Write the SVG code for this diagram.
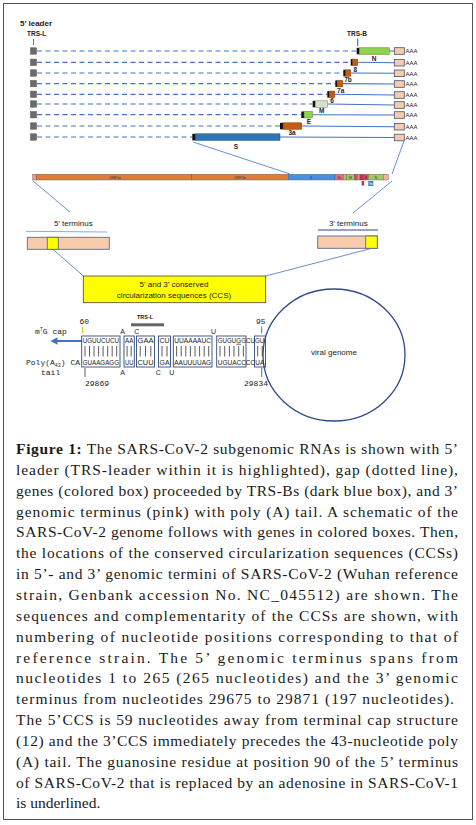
<svg xmlns="http://www.w3.org/2000/svg" width="476" height="825" viewBox="0 0 476 825">
<style>
.sans{font-family:"Liberation Sans",Arial,sans-serif}
.mono{font-family:"Liberation Mono","Courier New",monospace}
.cap{font-family:"Liberation Serif","Times New Roman",serif;font-size:15.5px;fill:#1a1a1a}
.dash{stroke:#4472C4;stroke-width:1.2;stroke-dasharray:5 3.5;fill:none}
.sol{stroke:#4472C4;stroke-width:1.1;fill:none}
.thin{stroke:#4472C4;stroke-width:0.8;fill:none}
.lead{fill:#6b6b6b;stroke:#555;stroke-width:0.5}
.trs{fill:#111}
.org{fill:#C55A11;stroke:#7a3508;stroke-width:0.5}
.grn{fill:#92D050;stroke:#4e7a25;stroke-width:0.5}
.pink{fill:#F8CBAD;stroke:#44546A;stroke-width:0.8}
.glab{font-family:"Liberation Sans",Arial,sans-serif;font-size:6.5px;font-weight:bold;fill:#222;text-anchor:middle}
.aaa{font-family:"Liberation Sans",Arial,sans-serif;font-size:6px;fill:#222}
.gb{stroke:#7a4a2a;stroke-width:0.4}
.tiny{font-family:"Liberation Sans",Arial,sans-serif;font-size:3.6px;fill:#333;text-anchor:middle}
.sbox{fill:none;stroke:#2F4A7A;stroke-width:0.9}
.seq{font-family:"Liberation Sans",Arial,sans-serif;font-size:7px;fill:#222}
.bar{stroke:#333;stroke-width:0.8;fill:none}
.lbl8{font-family:"Liberation Sans",Arial,sans-serif;font-size:8px;fill:#222;text-anchor:middle}
</style>
<rect x="3.5" y="3.5" width="469" height="816" fill="#fff" stroke="#555" stroke-width="1"/>

<g id="headers">
<text class="sans" x="20" y="25.5" font-size="8" font-weight="bold" fill="#222">5’ leader</text>
<text class="sans" x="27" y="36" font-size="6.5" font-weight="bold" fill="#222">TRS-L</text>
<line x1="33.5" y1="39" x2="33.5" y2="45" stroke="#4472C4" stroke-width="1"/>
<text class="sans" x="357" y="36" font-size="6.5" font-weight="bold" fill="#222" text-anchor="middle">TRS-B</text>
<line x1="357.7" y1="38.5" x2="357.7" y2="46" stroke="#4472C4" stroke-width="1.2"/>
</g>

<g id="connectors">
<line class="dash" x1="37" y1="51" x2="356.7" y2="51"/>
<line class="dash" x1="37" y1="62.3" x2="350.7" y2="62.3"/>
<line class="dash" x1="37" y1="73" x2="343.3" y2="73"/>
<line class="dash" x1="37" y1="83.6" x2="335.3" y2="83.6"/>
<line class="dash" x1="37" y1="94.3" x2="327.3" y2="94.3"/>
<line class="dash" x1="37" y1="104" x2="312.7" y2="104"/>
<line class="dash" x1="37" y1="114.7" x2="301.3" y2="114.7"/>
<line class="dash" x1="37" y1="126" x2="280" y2="126"/>
<line class="dash" x1="37" y1="137" x2="192.3" y2="137"/>
<line class="sol" x1="389.3" y1="51" x2="394.3" y2="51"/>
<line class="sol" x1="357.7" y1="62.3" x2="394.3" y2="62.7"/>
<line class="sol" x1="350.7" y1="73" x2="394.3" y2="73.3"/>
<line class="sol" x1="342.7" y1="83.6" x2="394.3" y2="84"/>
<line class="sol" x1="334.7" y1="94.3" x2="394.3" y2="95"/>
<line class="sol" x1="327.7" y1="104" x2="394.3" y2="105"/>
<line class="sol" x1="312.3" y1="114.7" x2="394.3" y2="115"/>
<line class="sol" x1="301.7" y1="126" x2="394.3" y2="126.7"/>
<line class="sol" x1="280" y1="137" x2="394.3" y2="137.5"/>
<line class="thin" x1="193" y1="142" x2="290" y2="174"/>
<line class="thin" x1="404" y1="141" x2="392" y2="174"/>
<line class="thin" x1="33" y1="181" x2="70" y2="212"/>
<line class="thin" x1="392" y1="181" x2="353" y2="213"/>
<line x1="26" y1="231.3" x2="107" y2="232" stroke="#8EA9DB" stroke-width="1"/>
<line x1="318" y1="230" x2="378" y2="230" stroke="#2F4A8A" stroke-width="1"/>
<line class="thin" x1="53" y1="249.3" x2="83.3" y2="276"/>
<line class="thin" x1="371.7" y1="248.3" x2="265.7" y2="276"/>
</g>

<g id="leaders">
<rect class="lead" x="30.5" y="47.8" width="6" height="6.4"/>
<rect class="lead" x="30.5" y="59.1" width="6" height="6.4"/>
<rect class="lead" x="30.5" y="69.8" width="6" height="6.4"/>
<rect class="lead" x="30.5" y="80.4" width="6" height="6.4"/>
<rect class="lead" x="30.5" y="91.1" width="6" height="6.4"/>
<rect class="lead" x="30.5" y="100.8" width="6" height="6.4"/>
<rect class="lead" x="30.5" y="111.5" width="6" height="6.4"/>
<rect class="lead" x="30.5" y="122.8" width="6" height="6.4"/>
<rect class="lead" x="30.5" y="133.8" width="6" height="6.4"/>
</g>

<g id="gene-N">
<rect class="trs" x="356.7" y="47.8" width="2.6" height="6.5"/>
<rect class="grn" x="359.3" y="47.8" width="30" height="6.5"/>
<text class="glab" x="374" y="60.5">N</text>
</g>
<g id="gene-8">
<rect class="trs" x="350.7" y="59.1" width="2" height="6.5"/>
<rect class="org" x="352.7" y="59.1" width="5" height="6.5"/>
<text class="glab" x="355.3" y="71.5">8</text>
</g>
<g id="gene-7b">
<rect class="trs" x="343.3" y="69.8" width="2.4" height="6.5"/>
<rect class="org" x="345.7" y="69.8" width="5" height="6.5"/>
<text class="glab" x="348" y="82.3">7b</text>
</g>
<g id="gene-7a">
<rect class="trs" x="335.3" y="80.4" width="2" height="6.5"/>
<rect class="org" x="337.3" y="80.4" width="5.4" height="6.5"/>
<text class="glab" x="340.7" y="92.8">7a</text>
</g>
<g id="gene-6">
<rect class="trs" x="327.3" y="91.1" width="2" height="6.5"/>
<rect class="org" x="329.3" y="91.1" width="5.4" height="6.5"/>
<text class="glab" x="332" y="103">6</text>
</g>
<g id="gene-M">
<rect class="trs" x="312.7" y="100.8" width="2.6" height="6.5"/>
<rect x="315.3" y="100.8" width="12.4" height="6.5" fill="#D3E2C8" stroke="#6c7e60" stroke-width="0.5"/>
<text class="glab" x="321.7" y="113">M</text>
</g>
<g id="gene-E">
<rect class="trs" x="301.3" y="111.5" width="2.7" height="6.5"/>
<rect class="grn" x="304" y="111.5" width="8.3" height="6.5"/>
<text class="glab" x="309" y="123.5">E</text>
</g>
<g id="gene-3a">
<rect class="trs" x="280" y="122.8" width="3" height="6.5"/>
<rect class="org" x="283" y="122.8" width="18.7" height="6.5"/>
<text class="glab" x="292" y="135.3">3a</text>
</g>
<g id="gene-S">
<rect class="trs" x="192.3" y="133.8" width="3.4" height="6.6"/>
<rect x="195.7" y="133.8" width="84.3" height="6.6" fill="#2E75B6" stroke="#1d4f80" stroke-width="0.5"/>
<text class="glab" x="236" y="148.5">S</text>
</g>

<g id="polyA">
<rect class="pink" x="394.3" y="47.7" width="10" height="6.6"/>
<rect class="pink" x="394.3" y="59.4" width="10" height="6.6"/>
<rect class="pink" x="394.3" y="70" width="10" height="6.6"/>
<rect class="pink" x="394.3" y="80.7" width="10" height="6.6"/>
<rect class="pink" x="394.3" y="91.7" width="10" height="6.6"/>
<rect class="pink" x="394.3" y="101.7" width="10" height="6.6"/>
<rect class="pink" x="394.3" y="111.7" width="10" height="6.6"/>
<rect class="pink" x="394.3" y="123.4" width="10" height="6.6"/>
<rect class="pink" x="394.3" y="134.2" width="10" height="6.6"/>
<text class="aaa" x="405.5" y="53.3">AAA</text>
<text class="aaa" x="405.5" y="65">AAA</text>
<text class="aaa" x="405.5" y="75.6">AAA</text>
<text class="aaa" x="405.5" y="86.3">AAA</text>
<text class="aaa" x="405.5" y="97.3">AAA</text>
<text class="aaa" x="405.5" y="107.3">AAA</text>
<text class="aaa" x="405.5" y="117.3">AAA</text>
<text class="aaa" x="405.5" y="129">AAA</text>
<text class="aaa" x="405.5" y="139.8">AAA</text>
</g>

<g id="genome">
<rect class="gb" x="32.7" y="174.3" width="4" height="5.7" fill="#D9A0A0"/>
<rect class="gb" x="36.7" y="174.3" width="155" height="5.7" fill="#E07B39"/>
<text class="tiny" x="115" y="178.6">ORF1a</text>
<rect class="gb" x="191.7" y="174.3" width="96.6" height="5.7" fill="#E07B39"/>
<text class="tiny" x="240" y="178.6">ORF1b</text>
<rect x="288.3" y="174.3" width="46.7" height="5.7" fill="#4A8FDB" stroke="#2a5f9a" stroke-width="0.4"/>
<text class="tiny" x="311" y="178.6">S</text>
<rect class="gb" x="335" y="174.3" width="8.3" height="5.7" fill="#E07080"/>
<text class="tiny" x="339.2" y="178.6">3a</text>
<rect class="gb" x="343.3" y="174.3" width="3.4" height="5.7" fill="#9CCB6B"/>
<rect class="gb" x="346.7" y="174.3" width="7.6" height="5.7" fill="#9CCB6B"/>
<text class="tiny" x="350.5" y="178.6">M</text>
<rect class="gb" x="354.3" y="174.3" width="3" height="5.7" fill="#D84860"/>
<rect class="gb" x="357.3" y="174.3" width="2.7" height="5.7" fill="#E88898"/>
<rect class="gb" x="360" y="174.3" width="3.3" height="5.7" fill="#C03050"/>
<rect class="gb" x="363.3" y="174.3" width="5" height="5.7" fill="#D04860"/>
<text class="tiny" x="365.8" y="178.6">8</text>
<rect class="gb" x="368.3" y="174.3" width="15" height="5.7" fill="#9CCB6B"/>
<text class="tiny" x="375.8" y="178.6">N</text>
<rect class="gb" x="383.3" y="174.3" width="5" height="5.7" fill="#F0B0B0"/>
<rect x="361.7" y="181" width="2.4" height="4.5" fill="#C0304A"/>
<rect x="368.3" y="181" width="5" height="5" fill="#3A78C0"/>
<text x="370.8" y="184.7" font-family="Liberation Sans,Arial,sans-serif" font-size="3.4" fill="#fff" text-anchor="middle">9b</text>
</g>

<g id="terminus-5">
<text class="lbl8" x="73.3" y="226">5’ terminus</text>
<rect x="27.3" y="237.3" width="82" height="12" fill="#F8CBAD" stroke="#5B6B85" stroke-width="0.9"/>
<rect x="47.3" y="237.3" width="11" height="12" fill="#FFFF00" stroke="#5B6B85" stroke-width="0.9"/>
</g>
<g id="terminus-3">
<text class="lbl8" x="348.3" y="226">3’ terminus</text>
<rect x="317.7" y="236" width="59.6" height="12.3" fill="#F8CBAD" stroke="#5B6B85" stroke-width="0.9"/>
<rect x="365.7" y="236" width="11.6" height="12.3" fill="#FFFF00" stroke="#5B6B85" stroke-width="0.9"/>
</g>

<g id="ccs">
<rect x="83.3" y="276" width="182.4" height="26.7" fill="#FFFF00" stroke="#444" stroke-width="0.8"/>
<text class="lbl8" x="174" y="287">5’ and 3’ conserved</text>
<text class="lbl8" x="174" y="298">circularization sequences (CCS)</text>
</g>

<g id="viral-genome">
<ellipse cx="334" cy="355" rx="71" ry="66" fill="none" stroke="#2E4A8B" stroke-width="1.3"/>
<text class="lbl8" x="334" y="354.5">viral genome</text>
</g>

<g id="sequence">
<text class="mono" x="79.5" y="323.5" font-size="8" fill="#222">60</text>
<line x1="82.7" y1="327" x2="82.7" y2="333.5" stroke="#F0B400" stroke-width="1"/>
<text class="sans" x="145" y="319" font-size="5.5" font-weight="bold" fill="#222" text-anchor="middle">TRS-L</text>
<rect x="131" y="323.3" width="33" height="3" fill="#666"/>
<text class="mono" x="35" y="333.5" font-size="8" fill="#222">m<tspan font-size="5" dy="-3">7</tspan><tspan dy="3">G cap</tspan></text>
<line x1="82" y1="341" x2="57" y2="341" stroke="#4472C4" stroke-width="2"/>
<polygon points="50.5,341 57.5,337.3 57.5,344.7" fill="#4472C4"/>
<text class="mono" x="26" y="365" font-size="8" fill="#222">Poly(A<tspan font-size="5" dy="1.5">43</tspan><tspan dy="-1.5">) CA</tspan></text>
<text class="mono" x="41" y="374.5" font-size="8" fill="#222">tail</text>
<line x1="85" y1="368" x2="85" y2="377" stroke="#333" stroke-width="0.8"/>
<text class="mono" x="85" y="385.5" font-size="8" fill="#222">29869</text>
<text class="mono" x="256" y="323.5" font-size="8" fill="#222">95</text>
<line x1="261.7" y1="326.5" x2="261.7" y2="333.5" stroke="#4472C4" stroke-width="1"/>
<line x1="261.7" y1="368" x2="261.7" y2="377" stroke="#4472C4" stroke-width="1"/>
<text class="mono" x="256" y="385.5" font-size="8" fill="#222" text-anchor="middle">29834</text>

<text class="seq" x="122.7" y="333.5" text-anchor="middle">A</text>
<text class="seq" x="136.7" y="333.5" text-anchor="middle">C</text>
<text class="seq" x="213.5" y="333.5" text-anchor="middle">U</text>
<text class="seq" x="122.7" y="374.5" text-anchor="middle">A</text>
<text class="seq" x="158.3" y="374.5" text-anchor="middle">C</text>
<text class="seq" x="171.7" y="374.5" text-anchor="middle">U</text>

<rect class="sbox" x="81.7" y="336" width="38.3" height="31"/>
<rect class="sbox" x="124" y="336" width="10.3" height="31"/>
<rect class="sbox" x="136.5" y="336" width="18" height="31"/>
<rect class="sbox" x="158.5" y="336" width="12" height="31"/>
<rect class="sbox" x="173.3" y="336" width="38.7" height="31"/>
<rect class="sbox" x="216.7" y="336" width="29.3" height="31"/>
<rect class="sbox" x="254.5" y="336" width="11" height="31"/>

<text class="seq" x="82.7" y="342.5" textLength="36.3" lengthAdjust="spacingAndGlyphs">UGUUCUCU</text>
<text class="seq" x="125" y="342.5" textLength="8.3" lengthAdjust="spacingAndGlyphs">AA</text>
<text class="seq" x="137.5" y="342.5" textLength="16" lengthAdjust="spacingAndGlyphs">GAA</text>
<text class="seq" x="159.5" y="342.5" textLength="10" lengthAdjust="spacingAndGlyphs">CU</text>
<text class="seq" x="174.3" y="342.5" textLength="36.7" lengthAdjust="spacingAndGlyphs">UUAAAAUC</text>
<text class="seq" x="217.7" y="342.5" textLength="46.6" lengthAdjust="spacingAndGlyphs">GUGUGGCUGU</text>

<text class="seq" x="82.7" y="365" textLength="36.3" lengthAdjust="spacingAndGlyphs">GUAAGAGG</text>
<text class="seq" x="125" y="365" textLength="8.3" lengthAdjust="spacingAndGlyphs">UU</text>
<text class="seq" x="137.5" y="365" textLength="16" lengthAdjust="spacingAndGlyphs">CUU</text>
<text class="seq" x="159.5" y="365" textLength="10" lengthAdjust="spacingAndGlyphs">GA</text>
<text class="seq" x="174.3" y="365" textLength="36.7" lengthAdjust="spacingAndGlyphs">AAUUUUAG</text>
<text class="seq" x="217.7" y="365" textLength="46.6" lengthAdjust="spacingAndGlyphs">UGUACCCCUA</text>

<path class="bar" d="M85 346V356.5M89.5 346V356.5M94 346V356.5M98.6 346V356.5M103.1 346V356.5M107.7 346V356.5M112.2 346V356.5M116.7 346V356.5M127.1 346V356.5M131.2 346V356.5M140.2 346V356.5M145.5 346V356.5M150.8 346V356.5M162 346V356.5M167 346V356.5M176.6 346V356.5M181.2 346V356.5M185.8 346V356.5M190.4 346V356.5M195 346V356.5M199.6 346V356.5M204.2 346V356.5M208.7 346V356.5M220 346V356.5M224.7 346V356.5M229.4 346V356.5M234 346V356.5M238.7 346V356.5M243.4 346V356.5M257.7 346V356.5M262.2 346V356.5"/>
<line x1="236.4" y1="344.2" x2="241" y2="344.2" stroke="#333" stroke-width="0.8"/>
</g>

<g id="caption">
<text class="cap" x="16" y="454" textLength="442" lengthAdjust="spacing"><tspan font-weight="bold">Figure 1:</tspan> The SARS-CoV-2 subgenomic RNAs is shown with 5’</text>
<text class="cap" x="16" y="474.85" textLength="442" lengthAdjust="spacing">leader (TRS-leader within it is highlighted), gap (dotted line),</text>
<text class="cap" x="16" y="495.7" textLength="442" lengthAdjust="spacing">genes (colored box) proceeded by TRS-Bs (dark blue box), and 3’</text>
<text class="cap" x="16" y="516.55" textLength="442" lengthAdjust="spacing">genomic terminus (pink) with poly (A) tail. A schematic of the</text>
<text class="cap" x="16" y="537.4" textLength="442" lengthAdjust="spacing">SARS-CoV-2 genome follows with genes in colored boxes. Then,</text>
<text class="cap" x="16" y="558.25" textLength="442" lengthAdjust="spacing">the locations of the conserved  circularization sequences (CCSs)</text>
<text class="cap" x="16" y="579.1" textLength="442" lengthAdjust="spacing">in 5’- and 3’ genomic termini of SARS-CoV-2 (Wuhan reference</text>
<text class="cap" x="16" y="599.95" textLength="442" lengthAdjust="spacing">strain, Genbank accession No. NC_045512) are shown. The</text>
<text class="cap" x="16" y="620.8" textLength="442" lengthAdjust="spacing">sequences and complementarity of the CCSs are shown, with</text>
<text class="cap" x="16" y="641.65" textLength="442" lengthAdjust="spacing">numbering of nucleotide positions corresponding to that of</text>
<text class="cap" x="16" y="662.5" textLength="442" lengthAdjust="spacing">reference strain. The 5’ genomic terminus spans from</text>
<text class="cap" x="16" y="683.35" textLength="442" lengthAdjust="spacing">nucleotides 1 to 265 (265 nucleotides) and the 3’ genomic</text>
<text class="cap" x="16" y="704.2" textLength="438" lengthAdjust="spacing">terminus from nucleotides 29675 to 29871 (197 nucleotides).</text>
<text class="cap" x="16" y="725.05" textLength="442" lengthAdjust="spacing">The 5’CCS is 59 nucleotides away from terminal cap structure</text>
<text class="cap" x="16" y="745.9" textLength="442" lengthAdjust="spacing">(12) and the 3’CCS immediately precedes the 43-nucleotide poly</text>
<text class="cap" x="16" y="766.75" textLength="442" lengthAdjust="spacing">(A) tail. The guanosine residue at position 90 of the 5’ terminus</text>
<text class="cap" x="16" y="787.6" textLength="442" lengthAdjust="spacing">of SARS-CoV-2 that is replaced by an adenosine in SARS-CoV-1</text>
<text class="cap" x="16" y="808.45">is underlined.</text>
</g>
</svg>
